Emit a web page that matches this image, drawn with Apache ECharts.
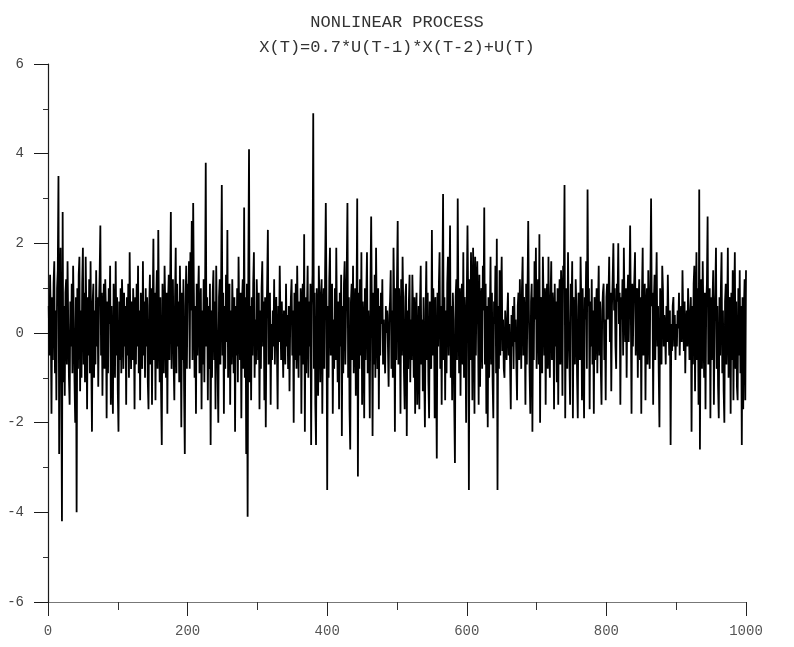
<!DOCTYPE html>
<html>
<head>
<meta charset="utf-8">
<script src="https://cdn.jsdelivr.net/npm/echarts@6/dist/echarts.min.js"></script>
<style>
  html, body { margin: 0; padding: 0; background: #ffffff; }
  #chart { width: 794px; height: 647px; }
</style>
</head>
<body>
<div id="chart"></div>
<script>
// Titles and axis ticks
const titleText = 'NONLINEAR PROCESS';
const subtitleText = 'X(T)=0.7*U(T-1)*X(T-2)+U(T)';
const xTicks = [0, 200, 400, 600, 800, 1000];
const yTicks = [-6, -4, -2, 0, 2, 4, 6];

// Simulated series X(T), T = 1..1000, in blocks of 100
const s0 = [
  0.6, -0.5, 1.3, 0.3, -1.8, 0.8, -0.6, 1.1, 1.6, -0.9,
  0.5, -1.5, 1.0, 1.4, 3.5, -2.7, 0.7, 1.9, -0.8, -4.2,
  2.7, -1.1, 0.6, -1.4, 0.9, 1.2, -0.7, 1.6, 0.2, -1.0,
  -1.6, 0.7, -0.3, 1.1, -0.9, 1.5, 0.3, -1.1, -2.0, 0.8,
  -4.0, 1.0, -0.8, 1.3, 1.7, -1.3, 0.5, -1.0, 1.1, 1.9,
  -0.7, 0.9, -1.1, 1.7, 0.3, -1.7, 0.8, -0.5, 1.2, -0.9,
  1.6, -0.6, -2.2, 0.7, 1.1, -1.0, 0.5, -0.7, 1.4, -0.3,
  0.8, -1.2, 0.6, 1.3, 2.4, -0.5, 0.9, -1.4, 0.3, 1.1,
  -0.8, 1.2, 0.5, -1.9, 0.7, -0.9, 1.0, 0.2, 1.5, -1.6,
  0.6, -0.7, -1.8, 1.1, 0.3, -1.0, 1.6, -0.5, 0.8, -1.3
];
const s1 = [
  -2.2, 0.7, -0.6, 1.0, -0.9, 1.2, 0.5, -0.8, 0.9, -0.3,
  0.6, -1.6, 0.8, -0.5, 1.1, -1.0, 1.8, 0.2, -0.8, 0.7,
  -0.6, 1.0, 0.3, -1.7, 0.8, -0.7, 1.1, -0.3, 1.5, -0.9,
  0.5, -1.5, 0.9, 0.2, -0.8, 1.6, -0.5, 0.7, -1.0, 1.0,
  -0.3, 0.8, -1.1, -1.7, 0.6, 1.3, -0.7, 1.0, -1.6, 0.5,
  2.1, -0.6, 0.9, -1.5, 0.7, 1.4, -0.8, 2.3, 0.3, -1.1,
  0.8, -1.3, -2.5, 1.1, 0.2, -0.9, 1.5, 0.6, -1.0, 0.9,
  -1.8, 0.7, 1.3, -0.6, 1.0, 2.7, -0.8, 0.5, 1.2, -0.7,
  -1.5, 0.8, 1.9, -0.9, 1.1, -0.3, 0.7, -1.1, 1.5, 0.3,
  -2.1, 0.9, -0.6, 1.2, -1.3, -2.7, 0.6, 1.5, -0.8, 1.1
];
const s2 = [
  0.7, 1.6, -0.8, 1.8, 0.5, 2.5, -0.6, 2.9, 0.9, -1.0,
  0.6, -1.8, 1.1, -0.5, 0.8, 1.5, -0.9, 0.3, 1.0, -1.7,
  0.5, -0.7, 1.2, -1.1, 0.7, 3.8, -0.3, 0.8, -1.5, 0.6,
  -0.8, 1.1, -2.5, 0.5, -1.0, 0.9, 1.4, -0.6, 0.7, -1.7,
  1.5, 0.2, -0.9, -2.0, 0.8, 1.2, -0.7, 1.0, 3.3, -0.5,
  0.9, -1.8, 0.6, -0.8, 1.3, -0.2, 2.3, -1.0, 0.7, 1.1,
  -1.6, 0.5, -0.7, 1.2, 0.3, -0.9, 0.8, -2.2, 0.6, -0.5,
  1.0, -1.1, 1.7, 0.3, -0.6, 0.9, -1.9, 0.7, 1.2, -0.8,
  2.8, -1.0, 0.8, -2.7, 1.1, -4.1, 1.4, 4.1, -1.1, 0.6,
  -1.5, 0.8, -0.5, 1.1, 1.8, -1.0, 0.3, -0.7, 1.2, 0.5
];
const s3 = [
  -0.6, 0.9, -1.7, 0.5, -0.8, 1.0, 1.6, -0.3, 0.7, -1.5,
  0.8, -2.1, 0.3, 1.1, 2.3, -0.7, 0.6, 0.9, -1.6, 0.2,
  -0.6, 0.5, -0.3, 1.2, -0.7, 0.4, 0.8, -0.4, -1.7, 0.6,
  -0.2, 1.5, 0.3, -0.6, 0.7, -0.1, -1.0, 0.5, 0.2, -0.7,
  1.1, -0.3, 0.4, -0.8, 0.6, -1.3, 0.2, 0.8, 1.2, -0.5,
  0.5, -2.0, 0.9, -0.6, 1.1, -0.8, 1.5, 0.2, -1.0, 0.7,
  -0.5, 1.0, -1.8, 0.6, 1.1, -0.7, 2.2, -2.2, 0.8, -0.9,
  0.5, 1.5, -1.0, 0.7, -0.3, 1.1, -2.5, 0.6, 1.3, 4.9,
  -0.8, 0.9, -1.6, -2.5, 1.0, 0.3, -1.4, 1.5, 0.6, -1.1,
  0.8, 1.2, -1.8, 0.5, 1.0, -0.8, 1.4, 2.9, 0.7, -3.5
];
const s4 = [
  0.6, -1.0, 1.2, 1.9, -0.5, 0.8, 1.1, -1.8, 0.3, -0.8,
  1.0, -0.6, 1.9, 0.2, -1.1, 0.7, -1.7, 0.9, -0.3, 1.3,
  -2.3, 0.6, -0.9, 1.1, 1.6, -0.7, 0.5, 1.4, 2.9, -1.0,
  0.8, -1.7, -2.6, 0.7, 1.1, -0.6, 1.5, -0.9, 0.3, 1.0,
  -1.4, 0.6, 3.0, -3.2, 0.9, -0.8, 1.2, -0.5, 1.8, -1.6,
  0.7, 0.2, -1.9, 1.0, -0.6, 0.8, 1.8, -0.9, 0.5, -0.3,
  -1.9, 1.1, 2.6, 0.5, -2.3, 0.9, -0.7, 1.3, -1.0, 1.9,
  0.3, -0.8, 1.0, -1.7, 0.6, -0.5, 0.9, 0.2, 1.2, -0.7,
  0.3, -0.4, -0.9, 0.6, 0.0, 0.5, -0.3, -1.2, 0.4, 0.7,
  1.4, -0.8, 0.5, -1.0, 1.9, 0.7, -2.2, 1.0, -0.6, 1.2
];
const s5 = [
  2.5, -0.7, 1.0, 0.3, -1.8, 1.2, -0.5, 1.7, 0.6, -0.9,
  -1.7, 0.8, 1.1, -2.3, 0.5, -0.8, 0.7, 1.3, -1.1, 0.3,
  -0.6, 1.3, 0.5, -1.0, 0.8, -1.8, 0.3, 0.9, -1.6, -0.5,
  0.6, -1.7, 0.7, 1.5, -0.7, 0.3, -1.3, 0.8, -0.9, -2.1,
  0.5, 1.6, -0.6, 0.9, -1.1, -1.9, 0.7, 0.2, -0.8, 2.3,
  -0.5, 1.0, 0.3, -1.9, 0.8, -0.7, -2.8, 0.9, -0.3, 1.1,
  1.8, -0.8, 0.6, -1.6, 1.0, 3.1, -0.6, 0.8, -1.5, 0.5,
  -0.9, 1.1, 1.7, -0.5, 0.7, 2.4, -1.0, 0.6, -1.5, 0.9,
  0.3, -1.6, -2.9, 0.8, 1.2, -0.6, 3.0, 0.5, -0.9, 1.0,
  -1.4, 0.6, 1.1, -0.7, 1.8, -1.0, 0.8, 0.2, -2.0, 0.9
];
const s6 = [
  2.4, 0.7, -3.5, 1.2, -0.6, 1.8, 0.8, -1.5, 1.9, 0.9,
  -1.8, 1.7, -0.5, 1.1, 1.6, 0.3, -1.6, 1.3, -1.2, 0.7,
  1.0, -0.8, 1.5, 0.5, 2.8, -0.7, 1.1, -1.8, 0.6, -2.1,
  0.8, -1.0, 0.3, 1.7, -0.7, 0.9, -1.1, -1.9, 0.7, 0.2,
  1.5, -0.9, 2.1, -3.5, 0.6, -0.8, 1.4, -0.5, 0.8, 1.7,
  -0.4, 0.3, -0.8, -1.0, 0.5, 0.0, -0.6, 0.4, 0.9, -0.5,
  0.2, -0.7, -1.7, 0.4, -0.3, 0.6, -0.8, 0.8, -0.2, 0.3,
  -0.7, -1.5, 0.6, 0.9, -0.6, 1.2, 0.2, -0.8, 1.0, 1.7,
  -0.5, 0.8, 0.3, -1.6, 1.1, -0.7, 0.9, 2.5, 0.5, -0.9,
  -1.8, 0.7, 1.1, -2.2, 0.8, -0.6, 1.6, 0.3, 1.9, -0.8
];
const s7 = [
  0.6, 1.2, -0.7, 2.2, -2.0, 0.8, 0.3, -0.9, 1.7, 0.7,
  -0.5, 1.0, -1.6, 0.6, 1.1, -0.8, 1.7, -0.2, -1.0, 0.8,
  1.6, -0.6, 0.9, 0.5, -1.7, 1.1, -0.3, 0.7, -1.1, 1.0,
  -1.6, 0.6, 1.2, -0.7, 1.4, 0.8, -1.4, 1.5, 1.1, 3.3,
  -1.9, 0.7, 1.0, -0.8, 1.8, 0.3, -0.6, -1.6, 1.1, 0.5,
  1.6, -1.9, 0.8, 0.3, -0.7, 1.2, 0.6, -1.0, -1.9, 0.9,
  0.5, -0.6, 1.7, 0.7, -1.5, 1.0, -0.5, -1.9, 0.8, 0.3,
  1.6, -0.8, 3.2, 0.6, 1.0, -1.7, 0.7, -0.3, 1.2, -0.7,
  0.5, -1.8, 0.8, -0.6, 0.3, 1.0, -0.9, 0.6, 1.5, -0.5,
  0.7, -0.8, -1.6, 0.5, 0.9, 1.1, -0.6, 0.3, -1.5, 0.8
];
const s8 = [
  1.1, 0.3, 0.8, 1.7, -0.2, 0.9, -1.3, 0.6, 1.2, 2.0,
  0.5, 1.0, -0.3, -0.8, 1.1, 0.7, 2.0, 0.2, 0.9, -1.6,
  0.8, 0.3, 1.2, -0.5, 1.9, 0.6, -0.2, 1.0, -1.0, 0.7,
  1.3, -0.2, 0.9, 2.4, 0.5, -1.8, 1.1, -0.3, 0.8, 1.2,
  1.8, -0.5, 0.7, 1.0, -1.0, 0.6, 1.2, -0.6, 0.8, -1.8,
  0.9, 1.9, -0.5, 0.7, 1.1, -1.5, 0.5, 1.0, -0.7, 1.4,
  0.3, -0.8, 1.1, 3.0, 0.6, 0.9, -1.6, 0.7, 1.3, -0.6,
  0.8, 1.8, -0.3, 0.6, -0.9, -2.1, 1.0, 0.5, -0.7, 1.5,
  1.0, -0.3, 0.4, 0.1, -0.7, 0.6, -0.2, 1.3, 0.3, -0.5,
  0.5, -2.5, 0.2, -0.4, 0.6, 0.8, -0.3, 0.4, -0.6, 0.2
];
const s9 = [
  -0.3, 0.5, 0.1, 0.9, -0.5, 0.3, 0.6, -0.2, 1.4, 0.4,
  -0.4, 0.7, -0.9, 0.2, 0.5, -0.3, 1.0, 0.4, -0.6, 0.3,
  0.8, -2.2, 0.6, -0.7, 1.1, 1.5, -1.3, 0.5, 1.8, -0.6,
  1.0, -1.6, 3.2, -2.6, 0.7, 1.2, -0.8, 1.6, 0.3, -1.0,
  0.9, -1.7, 0.6, 1.1, 2.6, -0.7, 0.5, 1.0, -1.9, 0.8,
  -0.6, 0.7, 1.4, -1.6, 0.3, 0.9, 1.9, -0.8, 0.6, -1.2,
  -1.9, 0.8, -0.5, 1.0, 1.8, -0.9, 0.5, -1.3, -2.0, 0.7,
  1.1, -0.7, 0.3, 1.9, -1.0, 0.6, 0.8, -1.8, 0.9, -0.6,
  1.4, -1.5, 0.5, 1.8, -0.8, 0.7, -1.2, -1.5, 1.0, -0.5,
  1.4, -0.9, 0.6, -2.5, 0.8, -1.7, 0.5, 1.2, -1.5, 1.4
];

const values = [].concat(s0, s1, s2, s3, s4, s5, s6, s7, s8, s9);
const points = values.map((v, i) => [i + 1, v]);

const font = 'Liberation Mono, DejaVu Sans Mono, monospace';
const ink = '#1a1a1a';

const chart = echarts.init(document.getElementById('chart'), null, { renderer: 'canvas' });
chart.setOption({
  animation: false,
  backgroundColor: '#ffffff',
  title: {
    text: titleText,
    subtext: subtitleText,
    left: 'center',
    top: 9,
    itemGap: 8,
    textStyle: { fontFamily: font, fontSize: 17, fontWeight: 'normal', color: '#333' },
    subtextStyle: { fontFamily: font, fontSize: 17, color: '#333' }
  },
  grid: { left: 48, right: 48, top: 64, bottom: 45, outerBoundsMode: 'none' },
  xAxis: {
    type: 'value',
    min: xTicks[0],
    max: xTicks[xTicks.length - 1],
    interval: xTicks[1] - xTicks[0],
    axisLine: { show: true, onZero: false, lineStyle: { color: '#777', width: 1 } },
    axisTick: { show: true, inside: false, length: 14, lineStyle: { color: '#222', width: 1 } },
    minorTick: { show: true, splitNumber: 2, length: 8, lineStyle: { color: '#333', width: 1 } },
    splitLine: { show: false },
    axisLabel: {
      margin: 22, fontFamily: font, fontSize: 14, color: '#555',
      formatter: (v) => String(v)
    }
  },
  yAxis: {
    type: 'value',
    min: yTicks[0],
    max: yTicks[yTicks.length - 1],
    interval: yTicks[1] - yTicks[0],
    axisLine: { show: true, onZero: false, lineStyle: { color: ink, width: 1.2 } },
    axisTick: { show: true, inside: false, length: 14, lineStyle: { color: ink, width: 1 } },
    minorTick: { show: true, splitNumber: 2, length: 5, lineStyle: { color: '#333', width: 1 } },
    splitLine: { show: false },
    axisLabel: { margin: 24, fontFamily: font, fontSize: 14, color: '#444' }
  },
  series: [{
    type: 'line',
    data: points,
    showSymbol: false,
    symbol: 'none',
    sampling: null,
    lineStyle: { color: '#000', width: 1.8 },
    z: 2
  }]
});
</script>
</body>
</html>
